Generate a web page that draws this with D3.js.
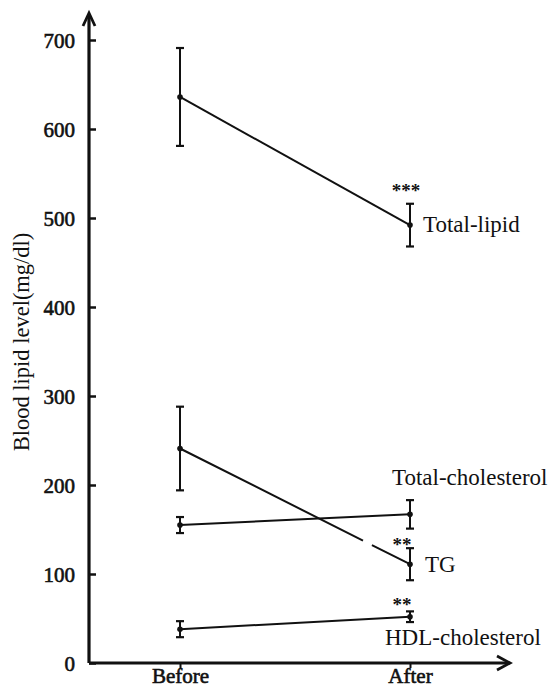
<!DOCTYPE html>
<html>
<head>
<meta charset="utf-8">
<script src="https://cdn.jsdelivr.net/npm/d3@7"></script>
<style>
  body { margin: 0; background: #fff; }
  svg text { font-family: "Liberation Serif", "Times New Roman", serif; fill: #111; }
</style>
</head>
<body>
<div id="chart"></div>
<script>
// values (mg/dl), mean and error bar half-length
const periods = ["Before", "After"]
const yTicks = [0, 100, 200, 300, 400, 500, 600, 700]

const lipidMean = [636, 492], lipidErr = [55, 24]
const cholMean = [155, 167], cholErr = [9, 16]
const tgMean = [241, 111], tgErr = [47, 18]
const hdlMean = [38, 52], hdlErr = [9, 6]

const seriesNames = ["Total-lipid", "Total-cholesterol", "TG", "HDL-cholesterol"]
const stars = ["***", "", "**", "**"]

var series = [
  {name: seriesNames[0], mean: lipidMean, err: lipidErr, stars: stars[0], lx: 423, ly: 232, sx: 406, sy: 197},
  {name: seriesNames[1], mean: cholMean, err: cholErr, stars: stars[1], lx: 392, ly: 485},
  {name: seriesNames[2], mean: tgMean, err: tgErr, stars: stars[2], lx: 425, ly: 572, sx: 402, sy: 551},
  {name: seriesNames[3], mean: hdlMean, err: hdlErr, stars: stars[3], lx: 385, ly: 645, sx: 402, sy: 611}
]

var width = 556, height = 689
var serif = "'Liberation Serif', 'Times New Roman', serif"

var svg = d3.select("#chart").append("svg")
  .attr("width", width)
  .attr("height", height)

var x = d3.scalePoint()
  .domain(periods)
  .range([180, 410])

var y = d3.scaleLinear()
  .domain([0, 700])
  .range([663, 40])

var axisX = 89

// y axis: ticks point inward, labels on the left
var gy = svg.append("g")
  .attr("transform", "translate(" + axisX + ",0)")
  .call(d3.axisLeft(y).tickValues(yTicks).tickSize(-7).tickSizeOuter(0).tickPadding(14))
  .attr("font-family", serif)
gy.select(".domain").remove()
gy.selectAll(".tick line").attr("stroke", "#111").attr("stroke-width", 2.5)
gy.selectAll(".tick text")
  .style("font-family", serif)
  .style("font-size", "21px")
  .attr("stroke", "#111")
  .attr("stroke-width", 0.6)
  .attr("dy", "0.35em")

// x axis
var gx = svg.append("g")
  .attr("transform", "translate(0," + y(0) + ")")
  .call(d3.axisBottom(x).tickSize(5).tickSizeOuter(0).tickPadding(0))
  .attr("font-family", serif)
gx.select(".domain").remove()
gx.selectAll(".tick line").attr("stroke", "#111").attr("stroke-width", 2)
gx.selectAll(".tick text")
  .style("font-family", serif)
  .style("font-size", "21px")
  .attr("stroke", "#111")
  .attr("stroke-width", 0.6)

// axis lines with open arrow heads
svg.append("path")
  .attr("d", "M" + axisX + "," + y(0) + "V14")
  .attr("stroke", "#111").attr("stroke-width", 3.2).attr("fill", "none")
svg.append("path")
  .attr("d", "M" + (axisX - 6) + ",26L" + axisX + ",13L" + (axisX + 6) + ",26")
  .attr("stroke", "#111").attr("stroke-width", 2.8).attr("fill", "none")
svg.append("path")
  .attr("d", "M" + axisX + "," + y(0) + "H509")
  .attr("stroke", "#111").attr("stroke-width", 3.2).attr("fill", "none")
svg.append("path")
  .attr("d", "M497," + (y(0) - 7) + "L510," + y(0) + "L497," + (y(0) + 7))
  .attr("stroke", "#111").attr("stroke-width", 2.8).attr("fill", "none")

// y axis title
svg.append("text")
  .attr("transform", "translate(29,342) rotate(-90)")
  .attr("text-anchor", "middle")
  .style("font-size", "22.5px")
  .text("Blood lipid level(mg/dl)")

var line = d3.line()
  .x(function(d, i) { return x(periods[i]) })
  .y(function(d) { return y(d) })

var groups = svg.selectAll("g.series")
  .data(series)
  .enter()
  .append("g")
  .attr("class", "series")

// connecting lines
groups.append("path")
  .attr("d", function(d) { return line(d.mean) })
  .attr("fill", "none")
  .attr("stroke", "#111")
  .attr("stroke-width", 2)
  .attr("stroke-dasharray", function(d) {
    // the TG line has a small break just before the "**"
    if (d.name != "TG") return null
    var dx = x("After") - x("Before"), dy = y(d.mean[1]) - y(d.mean[0])
    var len = Math.sqrt(dx * dx + dy * dy)
    var cut = len * (363 - x("Before")) / dx
    return cut + "," + 10 + "," + len
  })

// error bars
var bars = groups.selectAll("g.bar")
  .data(function(d) { return d.mean.map(function(m, i) { return {period: periods[i], mean: m, err: d.err[i]} }) })
  .enter()
  .append("g")
  .attr("class", "bar")

bars.append("line")
  .attr("x1", function(b) { return x(b.period) })
  .attr("x2", function(b) { return x(b.period) })
  .attr("y1", function(b) { return y(b.mean + b.err) })
  .attr("y2", function(b) { return y(b.mean - b.err) })
  .attr("stroke", "#111").attr("stroke-width", 2)

bars.selectAll("line.cap")
  .data(function(b) { return [b.mean + b.err, b.mean - b.err].map(function(v) { return {period: b.period, v: v} }) })
  .enter()
  .append("line")
  .attr("class", "cap")
  .attr("x1", function(c) { return x(c.period) - 4 })
  .attr("x2", function(c) { return x(c.period) + 4 })
  .attr("y1", function(c) { return y(c.v) })
  .attr("y2", function(c) { return y(c.v) })
  .attr("stroke", "#111").attr("stroke-width", 2.2)

bars.append("circle")
  .attr("cx", function(b) { return x(b.period) })
  .attr("cy", function(b) { return y(b.mean) })
  .attr("r", 2.8)
  .attr("fill", "#111")

// series labels
groups.append("text")
  .attr("x", function(d) { return d.lx })
  .attr("y", function(d) { return d.ly })
  .style("font-size", "23px")
  .text(function(d) { return d.name })

// significance marks next to the "After" error bar
groups.filter(function(d) { return d.stars != "" })
  .append("text")
  .attr("x", function(d) { return d.sx })
  .attr("y", function(d) { return d.sy })
  .attr("text-anchor", "middle")
  .style("font-size", "19px")
  .style("font-weight", "bold")
  .text(function(d) { return d.stars })
</script>
</body>
</html>
